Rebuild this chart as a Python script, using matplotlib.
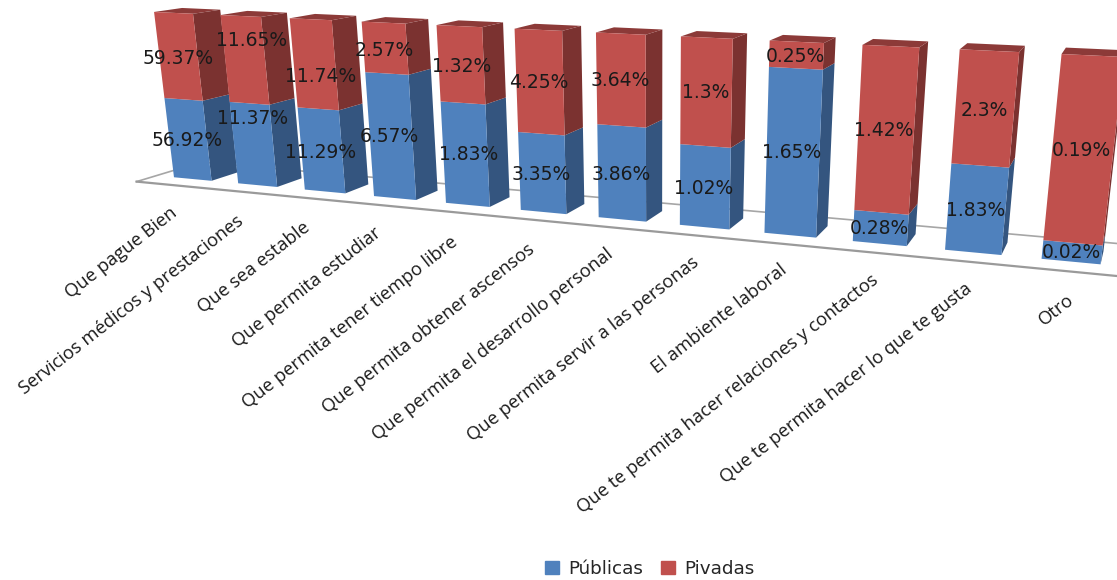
import numpy as np
import matplotlib
matplotlib.use('Agg')
import matplotlib.pyplot as plt
from matplotlib.patches import Patch

categorias = ['Que pague Bien', 'Servicios médicos y prestaciones', 'Que sea estable',
              'Que permita estudiar', 'Que permita tener tiempo libre',
              'Que permita obtener ascensos', 'Que permita el desarrollo personal',
              'Que permita servir a las personas', 'El ambiente laboral',
              'Que te permita hacer relaciones y contactos',
              'Que te permita hacer lo que te gusta', 'Otro']
publicas = [56.92, 11.37, 11.29, 6.57, 1.83, 3.35, 3.86, 1.02, 1.65, 0.28, 1.83, 0.02]
privadas = [59.37, 11.65, 11.74, 2.57, 1.32, 4.25, 3.64, 1.3, 0.25, 1.42, 2.3, 0.19]

# label anchors in pixels
pub_xy = [(187, 141), (253, 118), (321, 152), (389, 137), (469, 155), (541, 174),
          (621, 174), (704, 188), (792, 153), (879, 229), (976, 210), (1071, 252)]
priv_xy = [(178, 58), (252, 40), (321, 76), (384, 50), (462, 66), (539, 83),
           (620, 81), (706, 93), (795, 56), (884, 131), (984, 110), (1081, 151)]
cat_xy = [(175, 211), (241, 219), (308, 226), (379, 231), (455, 240), (532, 247),
          (611, 252), (697, 260), (785, 268), (876, 278), (970, 287), (1072, 298)]

# camera: (bar, across, depth, height) -> pixel, solved once with a DLT
bar_w = 0.59
camera_pts = [
    (0, 0, 0, 0, 174.3, 177.7), (0, 1, 0, 0, 211, 181), (0, 1, 1, 0, 236.7, 172.3),
    (0, 0, 0, 1, 154.3, 12.7), (0, 1, 0, 1, 192.7, 13.5), (0, 1, 1, 1, 220.7, 9.3),
    (5, 0, 0, 0, 521.7, 210.3), (5, 1, 0, 0, 565.7, 214), (5, 1, 1, 0, 585, 202.7),
    (5, 0, 0, 1, 515, 29), (5, 1, 0, 1, 561.7, 30.7), (5, 1, 1, 1, 581, 25.7),
    (8, 0, 0, 0, 765, 232.7), (8, 1, 0, 0, 815, 237.3), (8, 1, 1, 0, 828.3, 226),
    (8, 0, 0, 1, 770, 40.7), (8, 1, 0, 1, 822.7, 42.7), (8, 1, 1, 1, 835, 37.3),
    (10, 0, 0, 0, 946, 249.3), (10, 1, 0, 0, 1001, 254.7), (10, 1, 1, 0, 1007.7, 245),
    (10, 0, 0, 1, 960.7, 49.3), (10, 1, 0, 1, 1017, 52), (10, 1, 1, 1, 1024, 45.7),
    (11, 0, 0, 0, 1041.7, 258.3), (11, 1, 0, 0, 1099.3, 264.3), (11, 0, 0, 1, 1065, 54.3),
]
rows = []
for i, u, y, z, px, py in camera_pts:
    w = [i + u * bar_w, y, z, 1]
    rows.append(w + [0, 0, 0, 0] + [-px / 1000 * c for c in w])
    rows.append([0, 0, 0, 0] + w + [-py / 1000 * c for c in w])
P = np.linalg.svd(np.array(rows))[2][-1].reshape(3, 4)


def project(x, y, z):
    h = P @ np.array([x, y, z, 1.0])
    return 1000 * h[0] / h[2], 1000 * h[1] / h[2]


def quad(ax, pts, color, zorder=2):
    ax.fill(*zip(*[project(*p) for p in pts]), color=color, lw=0, zorder=zorder)


fig = plt.figure(figsize=(11.17, 5.8), dpi=100)
ax = fig.add_axes([0, 0, 1, 1])
ax.set_xlim(0, 1117)
ax.set_ylim(580, 0)
ax.axis('off')

# floor of the chart
x0, x1, y0, y1 = -0.28, 12.3, -0.71, 1.71
ax.plot(*zip(project(x0, y1, 0), project(x1, y1, 0)), color='#a6a6a6', lw=1.2, zorder=1)
ax.plot(*zip(project(x0, y1, 0), project(x0, y0, 0)), color='#a6a6a6', lw=1.2, zorder=1)
ax.plot(*zip(project(x0, y0, 0), project(x1, y0, 0)), color='#9a9a9a', lw=1.6, zorder=1)

for i in range(len(categorias)):
    share = publicas[i] / (publicas[i] + privadas[i])
    l, r = i, i + bar_w
    # side faces first, then the front
    quad(ax, [(r, 0, 0), (r, 1, 0), (r, 1, share), (r, 0, share)], '#34557f')
    quad(ax, [(r, 0, share), (r, 1, share), (r, 1, 1), (r, 0, 1)], '#7b3230')
    quad(ax, [(l, 0, 1), (r, 0, 1), (r, 1, 1), (l, 1, 1)], '#8c3a38')
    quad(ax, [(l, 0, 0), (r, 0, 0), (r, 0, share), (l, 0, share)], '#4f81bd')
    quad(ax, [(l, 0, share), (r, 0, share), (r, 0, 1), (l, 0, 1)], '#c0504d')

for v, (x, y) in zip(publicas, pub_xy):
    ax.text(x, y, f'{v:g}%', ha='center', va='center', fontsize=13.5, color='#1a1a1a', zorder=5)
for v, (x, y) in zip(privadas, priv_xy):
    ax.text(x, y, f'{v:g}%', ha='center', va='center', fontsize=13.5, color='#1a1a1a', zorder=5)

for c, (x, y) in zip(categorias, cat_xy):
    ax.text(x, y, c, ha='right', va='center', rotation=38, rotation_mode='anchor',
            family='Open Sans', fontsize=13.2, color='#1a1a1a')

handles = [Patch(color='#4f81bd'), Patch(color='#c0504d')]
ax.legend(handles, ['Públicas', 'Pivadas'], ncol=2, frameon=False, loc='center',
          bbox_to_anchor=(650 / 1117, 1 - 569 / 580), fontsize=13.2, handlelength=0.75,
          handleheight=0.75, handletextpad=0.5, columnspacing=1.0, labelcolor='#262626')

fig.savefig('out.png', dpi=100)
